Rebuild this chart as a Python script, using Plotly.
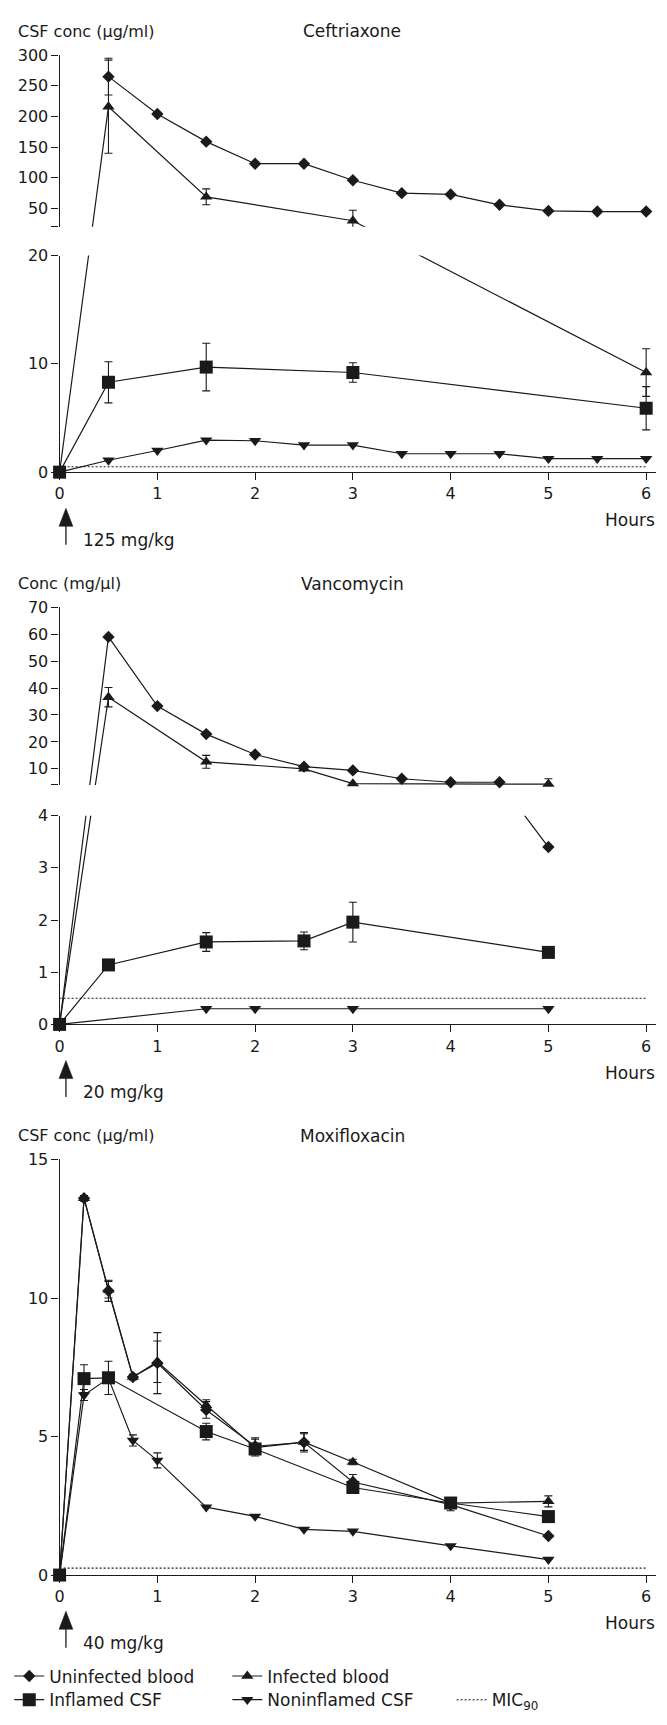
import plotly.graph_objects as go

W, H = 667, 1725
FONT = "DejaVu Sans"
INK = "#1a1a1a"

# ---------------- data ----------------
hours_ticks = [0, 1, 2, 3, 4, 5, 6]

# Ceftriaxone, 125 mg/kg
cef_uninf_h = [0.5, 1, 1.5, 2, 2.5, 3, 3.5, 4, 4.5, 5, 5.5, 6]
cef_uninf = [265, 204, 159, 123, 123, 96, 75, 73, 56, 46, 45, 45]
cef_uninf_sd = [30, 0, 0, 0, 0, 0, 0, 0, 0, 0, 0, 0]
cef_inf_h = [0, 0.5, 1.5, 3, 6]
cef_inf = [0, 216, 69, 30, 9.2]
cef_inf_sd = [0, 76, 13, 17, 2.2]
cef_infl_h = [0, 0.5, 1.5, 3, 6]
cef_infl = [0, 8.3, 9.7, 9.2, 5.9]
cef_infl_sd = [0, 1.9, 2.2, 0.9, 2.0]
cef_noninfl_h = [0, 0.5, 1, 1.5, 2, 2.5, 3, 3.5, 4, 4.5, 5, 5.5, 6]
cef_noninfl = [0, 1.1, 2.0, 2.95, 2.9, 2.5, 2.5, 1.7, 1.7, 1.7, 1.25, 1.25, 1.25]
cef_noninfl_sd = [0] * 13
cef_mic90 = 0.5

# Vancomycin, 20 mg/kg
van_uninf_h = [0, 0.5, 1, 1.5, 2, 2.5, 3, 3.5, 4, 4.5, 5]
van_uninf = [0, 59, 33.3, 22.9, 15.3, 10.8, 9.4, 6.3, 5.0, 5.0, 3.4]
van_uninf_sd = [0] * 11
van_inf_h = [0, 0.5, 1.5, 2.5, 3, 5]
van_inf = [0, 36.6, 12.6, 10.0, 4.5, 4.3]
van_inf_sd = [0, 3.6, 2.4, 0, 0, 2.0]
van_infl_h = [0, 0.5, 1.5, 2.5, 3, 5]
van_infl = [0, 1.14, 1.58, 1.6, 1.96, 1.38]
van_infl_sd = [0, 0, 0.18, 0.17, 0.38, 0]
van_noninfl_h = [0, 1.5, 2, 3, 5]
van_noninfl = [0, 0.3, 0.3, 0.3, 0.3]
van_noninfl_sd = [0] * 5
van_mic90 = 0.5

# Moxifloxacin, 40 mg/kg
mox_uninf_h = [0, 0.25, 0.5, 0.75, 1, 1.5, 2, 2.5, 3, 4, 5]
mox_uninf = [0, 13.6, 10.26, 7.15, 7.65, 5.96, 4.65, 4.79, 3.36, 2.54, 1.41]
mox_uninf_sd = [0, 0.1, 0.38, 0.1, 1.1, 0.3, 0.3, 0.35, 0.27, 0.22, 0]
mox_inf_h = [0, 0.25, 0.5, 0.75, 1, 1.5, 2, 2.5, 3, 4, 5]
mox_inf = [0, 13.6, 10.3, 7.15, 7.7, 6.13, 4.6, 4.8, 4.08, 2.6, 2.66]
mox_inf_sd = [0, 0.1, 0.3, 0.1, 0.75, 0.2, 0.3, 0.3, 0.1, 0.2, 0.2]
mox_infl_h = [0, 0.25, 0.5, 1.5, 2, 3, 4, 5]
mox_infl = [0, 7.09, 7.12, 5.18, 4.55, 3.16, 2.6, 2.11]
mox_infl_sd = [0, 0.5, 0.6, 0.3, 0.1, 0.2, 0.1, 0.17]
mox_noninfl_h = [0, 0.25, 0.5, 0.75, 1, 1.5, 2, 2.5, 3, 4, 5]
mox_noninfl = [0, 6.5, 7.1, 4.86, 4.14, 2.45, 2.12, 1.65, 1.58, 1.05, 0.56]
mox_noninfl_sd = [0, 0.2, 0, 0.2, 0.27, 0, 0, 0, 0, 0, 0]
mox_mic90 = 0.25

# ---------------- page geometry (pixels) ----------------
def paper_x(p):
    return p / W


def paper_y(p):
    return 1 - p / H


X_ZERO_PX = 55.0
PX_PER_HOUR = 98.5
X_RANGE = [0, 6.1]
X_DOMAIN = [paper_x(X_ZERO_PX), paper_x(X_ZERO_PX + X_RANGE[1] * PX_PER_HOUR)]
TITLE_CENTER_PX = 350
YLABEL_LEFT_PX = 11.5
ARROW_PX = 61.4

STYLE = {
    "uninf": dict(name="Uninfected blood", symbol="diamond", size=9.5),
    "inf": dict(name="Infected blood", symbol="triangle-up", size=10.8),
    "noninfl": dict(name="Noninflamed CSF", symbol="triangle-down", size=10.8),
    "infl": dict(name="Inflamed CSF", symbol="square", size=13),
}
DRAW_ORDER = ["uninf", "inf", "noninfl", "infl"]

# Each drug block: y segments (value_lo, value_hi, pixel_lo, pixel_hi); a broken
# axis is two segments sharing one pixel-linear coordinate so lines stay straight.
# The first entry of an upper segment's tick list is the unlabelled break tick.
drugs = [
    dict(
        title="Ceftriaxone", ylabel="CSF conc (μg/ml)", dose="125 mg/kg",
        segs=[(0, 20, 468.3, 249.3), (20, 300, 220.3, 46.7)],
        ticks=[[0, 10, 20], [20, 50, 100, 150, 200, 250, 300]],
        mic=cef_mic90,
        series={
            "uninf": (cef_uninf_h, cef_uninf, cef_uninf_sd),
            "inf": (cef_inf_h, cef_inf, cef_inf_sd),
            "infl": (cef_infl_h, cef_infl, cef_infl_sd),
            "noninfl": (cef_noninfl_h, cef_noninfl, cef_noninfl_sd),
        },
    ),
    dict(
        title="Vancomycin", ylabel="Conc (mg/μl)", dose="20 mg/kg",
        segs=[(0, 4, 1026.7, 815.7), (4, 70, 784.6, 605.0)],
        ticks=[[0, 1, 2, 3, 4], [4, 10, 20, 30, 40, 50, 60, 70]],
        mic=van_mic90,
        series={
            "uninf": (van_uninf_h, van_uninf, van_uninf_sd),
            "inf": (van_inf_h, van_inf, van_inf_sd),
            "infl": (van_infl_h, van_infl, van_infl_sd),
            "noninfl": (van_noninfl_h, van_noninfl, van_noninfl_sd),
        },
    ),
    dict(
        title="Moxifloxacin", ylabel="CSF conc (μg/ml)", dose="40 mg/kg",
        segs=[(0, 15, 1583.5, 1163.3)],
        ticks=[[0, 5, 10, 15]],
        mic=mox_mic90,
        series={
            "uninf": (mox_uninf_h, mox_uninf, mox_uninf_sd),
            "inf": (mox_inf_h, mox_inf, mox_inf_sd),
            "infl": (mox_infl_h, mox_infl, mox_infl_sd),
            "noninfl": (mox_noninfl_h, mox_noninfl, mox_noninfl_sd),
        },
    ),
]


def seg_scale(seg):
    vlo, vhi, plo, phi = seg
    return (plo - phi) / (vhi - vlo)


def seg_u(seg, base, v):
    vlo, vhi, plo, phi = seg
    return base - plo + (v - vlo) * seg_scale(seg)


def seg_index(segs, v):
    for i, s in enumerate(segs):
        if v <= s[1]:
            return i
    return len(segs) - 1


def to_u(segs, v):
    base = segs[0][2]
    return seg_u(segs[seg_index(segs, v)], base, v)


def axis_names(kind, n):
    return (kind if n == 1 else f"{kind}{n}"), (f"{kind}axis" if n == 1 else f"{kind}axis{n}")


fig = go.Figure()
layout = {}
annotations = []
shapes = []
nx = ny = 0

for drug in drugs:
    segs = drug["segs"]
    base = segs[0][2]
    nx += 1
    xs, xl = axis_names("x", nx)
    yrefs = []
    for i, seg in enumerate(segs):
        ny += 1
        ys, yl = axis_names("y", ny)
        yrefs.append(ys)
        tv = drug["ticks"][i]
        labelled = tv[1:] if i > 0 else tv
        ax = dict(
            domain=[paper_y(seg[2]), paper_y(seg[3])],
            range=[base - seg[2], base - seg[3]],
            anchor=xs,
            tickmode="array",
            tickvals=[seg_u(seg, base, v) for v in labelled],
            ticktext=[str(v) for v in labelled],
            ticks="outside", ticklen=7, tickwidth=1.2, tickcolor=INK,
            showline=True, linewidth=1.2, linecolor=INK,
            showgrid=False, zeroline=False,
            tickfont=dict(family=FONT, size=16, color=INK),
            fixedrange=True,
        )
        if i > 0:
            ax["minor"] = dict(tickmode="array", tickvals=[seg_u(seg, base, tv[0])],
                               ticks="outside", ticklen=7, tickwidth=1.2,
                               tickcolor=INK, showgrid=False)
        layout[yl] = ax
    layout[xl] = dict(
        domain=X_DOMAIN, range=X_RANGE, anchor=yrefs[0],
        tickmode="array", tickvals=hours_ticks,
        ticktext=[str(t) for t in hours_ticks],
        ticks="outside", ticklen=7, tickwidth=1.2, tickcolor=INK,
        showline=True, linewidth=1.2, linecolor=INK,
        showgrid=False, zeroline=False,
        tickfont=dict(family=FONT, size=16, color=INK),
        fixedrange=True,
    )

    # MIC90 reference line
    fig.add_trace(go.Scatter(
        x=[hours_ticks[0], hours_ticks[-1]], y=[to_u(segs, drug["mic"])] * 2,
        xaxis=xs, yaxis=yrefs[0], mode="lines",
        line=dict(color=INK, width=1.1, dash="2px,2px"),
        hoverinfo="skip", showlegend=False,
    ))

    # connecting lines, drawn in every segment and clipped by it
    for key in DRAW_ORDER:
        h, v, sd = drug["series"][key]
        u = [to_u(segs, val) for val in v]
        for ys in yrefs:
            fig.add_trace(go.Scatter(
                x=h, y=u, xaxis=xs, yaxis=ys, mode="lines",
                line=dict(color=INK, width=1.2),
                hoverinfo="skip", showlegend=False,
            ))

    # symbols with error bars, placed in the segment that holds their value
    for key in DRAW_ORDER:
        h, v, sd = drug["series"][key]
        st = STYLE[key]
        for i, ys in enumerate(yrefs):
            idx = [k for k, val in enumerate(v) if seg_index(segs, val) == i]
            if not idx:
                continue
            sc = seg_scale(segs[i])
            fig.add_trace(go.Scatter(
                x=[h[k] for k in idx],
                y=[to_u(segs, v[k]) for k in idx],
                customdata=[v[k] for k in idx],
                xaxis=xs, yaxis=ys, mode="markers", cliponaxis=False,
                marker=dict(symbol=st["symbol"], size=st["size"], color=INK,
                            line=dict(width=0)),
                error_y=dict(type="data", array=[sd[k] * sc for k in idx],
                             visible=True, color=INK, thickness=1.1, width=4),
                name=st["name"], showlegend=False,
                hovertemplate="%{x} h: %{customdata}<extra>" + st["name"] + "</extra>",
            ))

    top = segs[-1][3]
    annotations += [
        dict(text=drug["title"], x=paper_x(TITLE_CENTER_PX), y=paper_y(top - 24),
             xanchor="center", yanchor="middle", font=dict(size=17)),
        dict(text=drug["ylabel"], x=paper_x(YLABEL_LEFT_PX), y=paper_y(top - 24),
             xanchor="left", yanchor="middle", font=dict(size=16)),
        dict(text="Hours", x=paper_x(656.6), y=paper_y(base + 48.8),
             xanchor="right", yanchor="middle", font=dict(size=17)),
        dict(text=drug["dose"], x=paper_x(76.3), y=paper_y(base + 68.5),
             xanchor="left", yanchor="middle", font=dict(size=17)),
    ]
    # dosing arrow
    tip, head, tail, half = base + 36.5, base + 54.8, base + 73.5, 7.0
    shapes += [
        dict(type="line", xref="paper", yref="paper",
             x0=paper_x(ARROW_PX), x1=paper_x(ARROW_PX),
             y0=paper_y(head - 1), y1=paper_y(tail),
             line=dict(color=INK, width=1.3)),
        dict(type="path", xref="paper", yref="paper",
             path=(f"M{paper_x(ARROW_PX)},{paper_y(tip)} "
                   f"L{paper_x(ARROW_PX - half)},{paper_y(head)} "
                   f"L{paper_x(ARROW_PX + half)},{paper_y(head)} Z"),
             fillcolor=INK, line=dict(color=INK, width=0.5)),
    ]

# ---------------- legend (one legend box per entry) ----------------
legend_items = [
    ("uninf", 12.3, 1686), ("inf", 232.0, 1686),
    ("infl", 12.3, 1710), ("noninfl", 232.0, 1710),
]
for n, (key, lx, ly) in enumerate(legend_items, start=1):
    lname = "legend" if n == 1 else f"legend{n}"
    st = STYLE[key]
    fig.add_trace(go.Scatter(
        x=[None], y=[None], mode="lines+markers", name=st["name"],
        line=dict(color=INK, width=1.2),
        marker=dict(symbol=st["symbol"], size=st["size"], color=INK),
        legend=lname, showlegend=True, xaxis="x3", yaxis="y5",
    ))
    layout[lname] = dict(x=paper_x(lx - 8), y=paper_y(ly), xanchor="left", yanchor="middle",
                         orientation="h", bgcolor="rgba(0,0,0,0)", borderwidth=0,
                         font=dict(family=FONT, size=17, color=INK))
fig.add_trace(go.Scatter(
    x=[None], y=[None], mode="lines", name="MIC<sub>90</sub>",
    line=dict(color=INK, width=1.1, dash="2px,2px"),
    legend="legend5", showlegend=True, xaxis="x3", yaxis="y5",
))
layout["legend5"] = dict(x=paper_x(458 - 8), y=paper_y(1710), xanchor="left", yanchor="middle",
                         orientation="h", bgcolor="rgba(0,0,0,0)", borderwidth=0,
                         font=dict(family=FONT, size=17, color=INK))

for a in annotations:
    a.update(xref="paper", yref="paper", showarrow=False)
    a["font"] = dict(family=FONT, color=INK, **a["font"])

fig.update_layout(
    width=W, height=H, margin=dict(l=0, r=0, t=0, b=0),
    paper_bgcolor="white", plot_bgcolor="white",
    font=dict(family=FONT, color=INK),
    annotations=annotations, shapes=shapes,
    hovermode="closest",
    **layout,
)

fig.write_html("out.html")
